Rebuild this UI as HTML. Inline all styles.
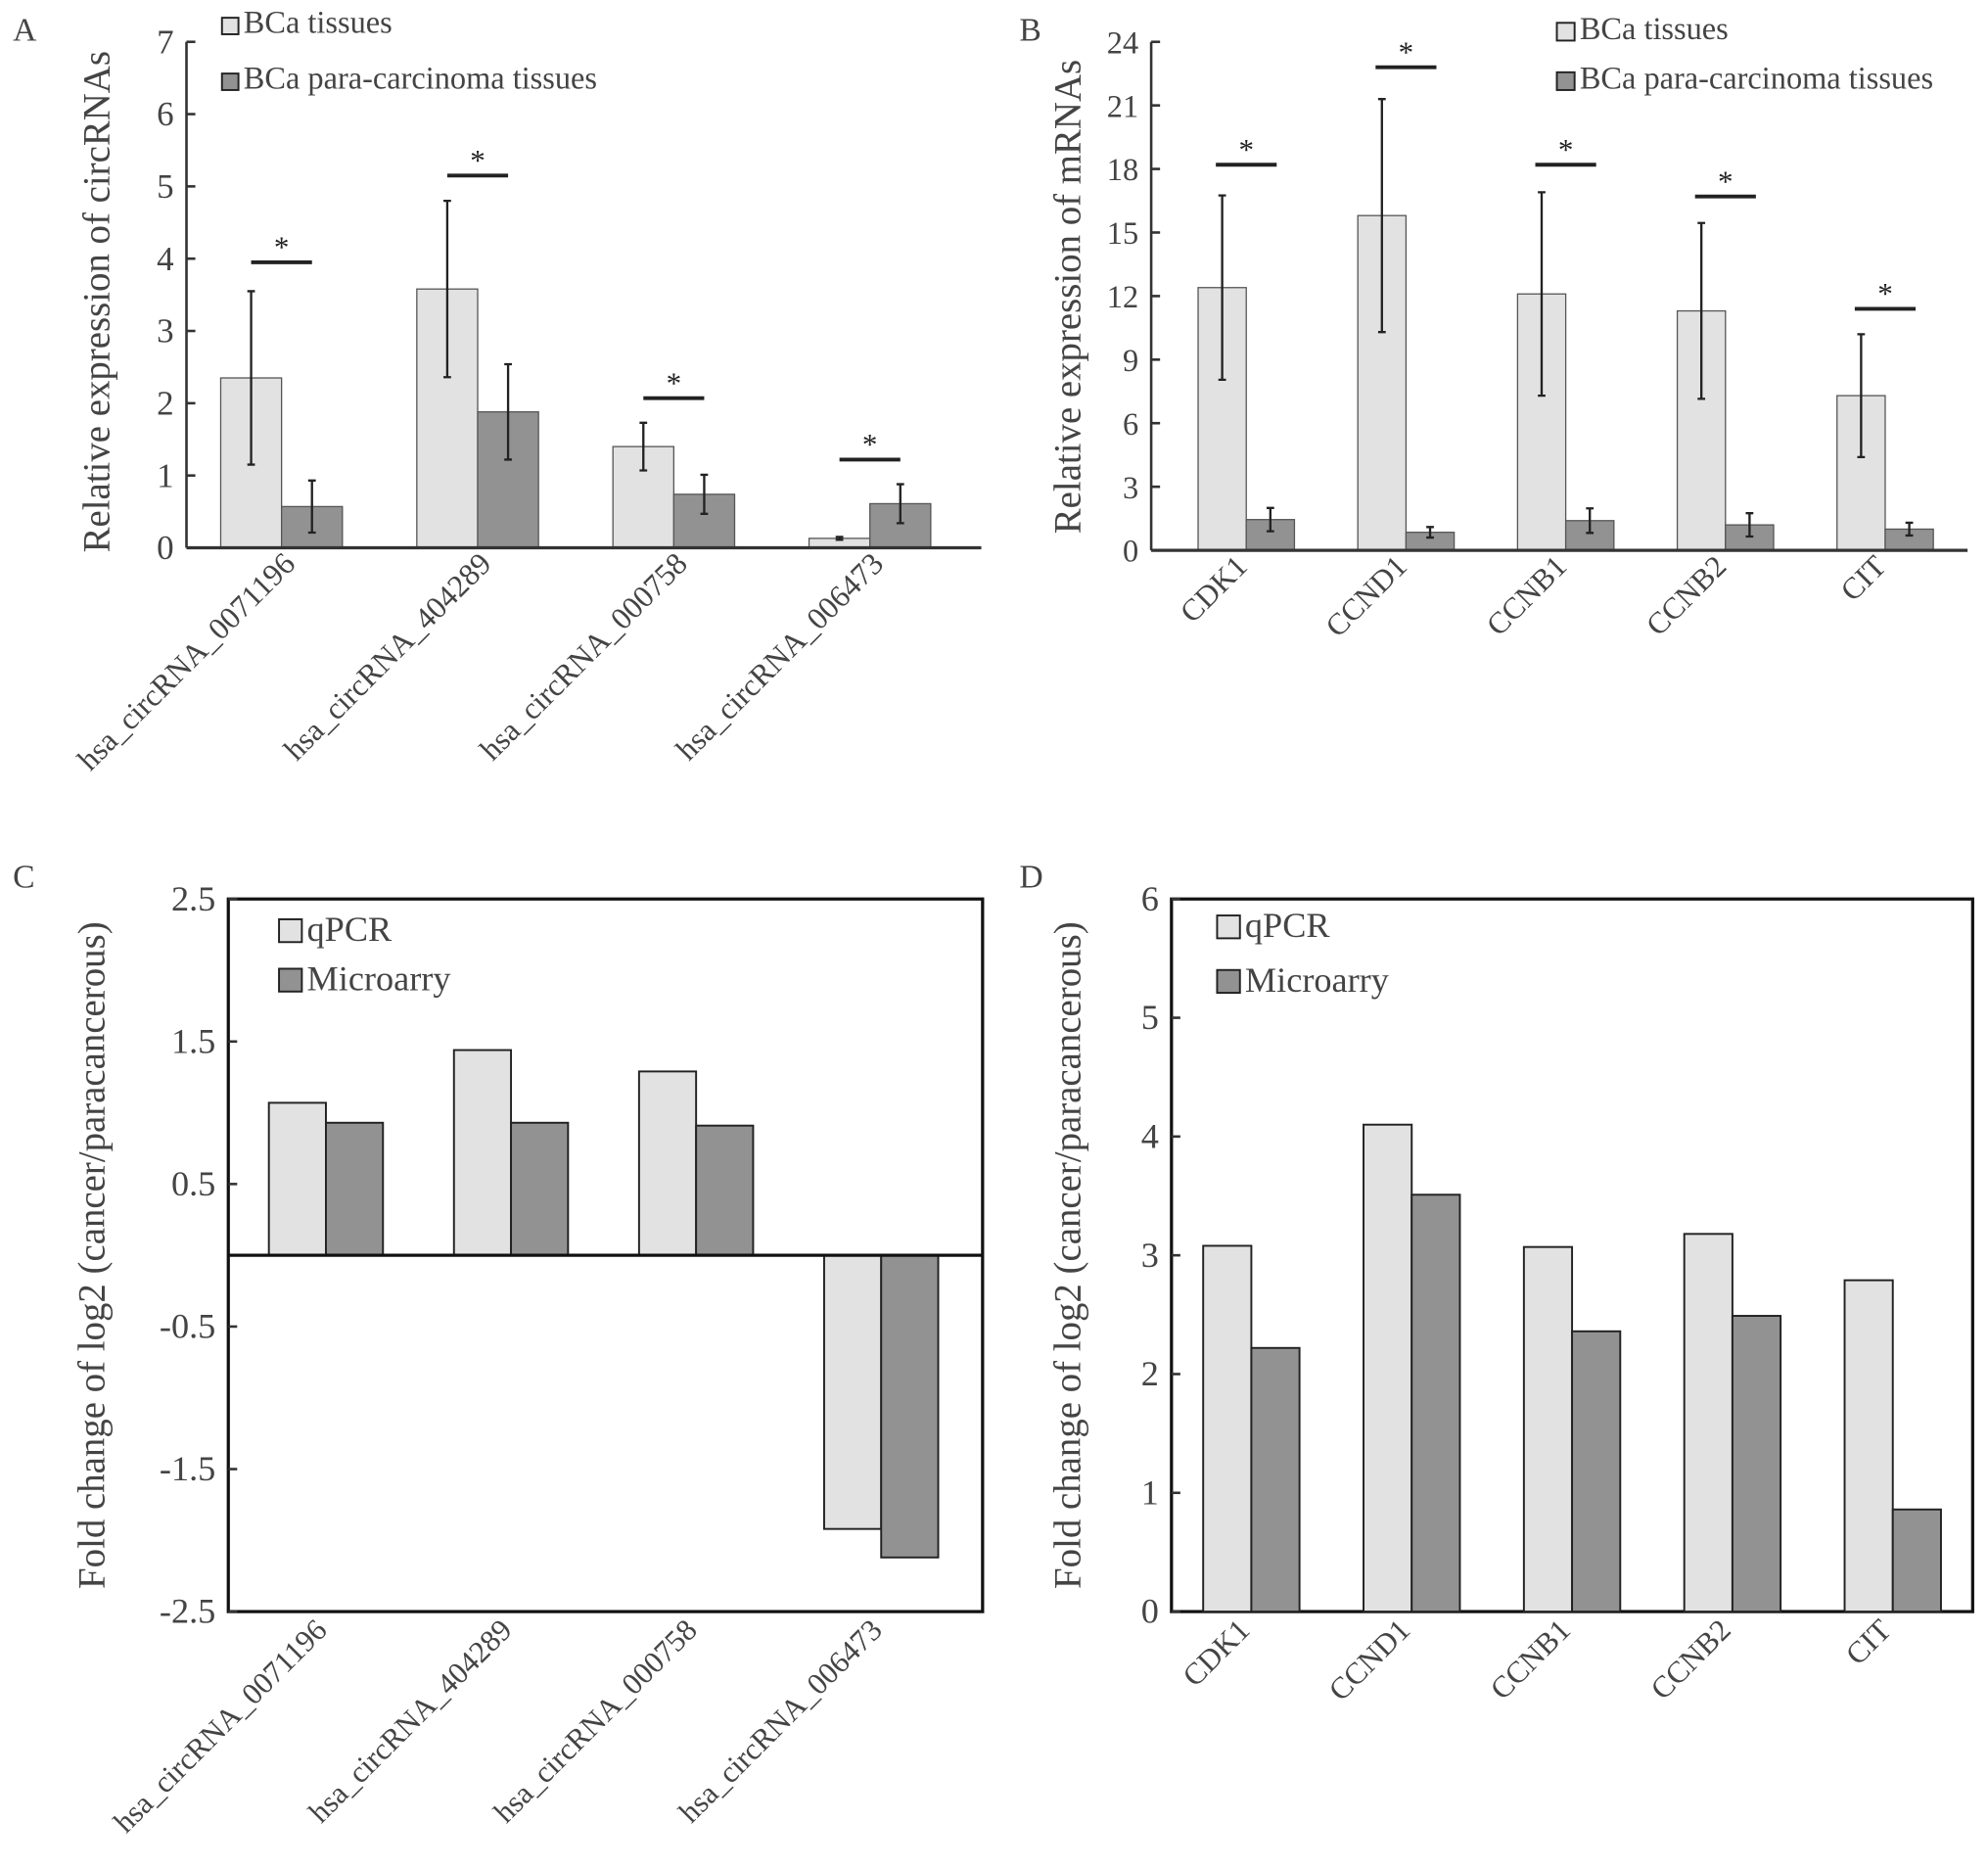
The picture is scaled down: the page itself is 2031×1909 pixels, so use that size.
<!DOCTYPE html>
<html><head><meta charset="utf-8"><style>
html,body{margin:0;padding:0;background:#fff;}
svg{display:block;font-family:"Liberation Serif",serif;}
svg text{font-family:"Liberation Serif",serif;}
</style></head><body>
<svg id="fig" width="2031" height="1909" viewBox="0 0 1568 1474" xmlns="http://www.w3.org/2000/svg">
<rect width="1568" height="1474" fill="#fff"/>
<g fill="#444" font-size="26">
<text x="10" y="32">A</text>
<text x="804" y="32">B</text>
<text x="10" y="700">C</text>
<text x="804" y="700">D</text>
</g>
</svg>
<script>
// Panel A data
const catsA = ["hsa_circRNA_0071196","hsa_circRNA_404289","hsa_circRNA_000758","hsa_circRNA_006473"];
const tissueA = [2.35, 3.58, 1.4, 0.13];
const tissueErrA = [1.2, 1.22, 0.33, 0.02];
const paraA = [0.57, 1.88, 0.74, 0.61];
const paraErrA = [0.36, 0.66, 0.27, 0.27];
const sigA = [3.95, 5.15, 2.07, 1.22];
const ticksA = [0,1,2,3,4,5,6,7];
// Panel B data
const catsB = ["CDK1","CCND1","CCNB1","CCNB2","CIT"];
const tissueB = [12.4, 15.8, 12.1, 11.3, 7.3];
const tissueErrB = [4.35, 5.5, 4.8, 4.15, 2.9];
const paraB = [1.45, 0.85, 1.4, 1.2, 1.0];
const paraErrB = [0.55, 0.25, 0.58, 0.55, 0.3];
const sigB = [18.2, 22.8, 18.2, 16.7, 11.4];
const ticksB = [0,3,6,9,12,15,18,21,24];
// Panel C data
const catsC = catsA;
const qpcrC = [1.07, 1.44, 1.29, -1.92];
const microC = [0.93, 0.93, 0.91, -2.12];
const ticksC = [2.5,1.5,0.5,-0.5,-1.5,-2.5];
// Panel D data
const catsD = catsB;
const qpcrD = [3.08, 4.1, 3.07, 3.18, 2.79];
const microD = [2.22, 3.51, 2.36, 2.49, 0.86];
const ticksD = [0,1,2,3,4,5,6];

const NS="http://www.w3.org/2000/svg";
const svg=document.getElementById('fig');
function mk(tag,attrs,parent){const e=document.createElementNS(NS,tag);for(const k in attrs)e.setAttribute(k,attrs[k]);(parent||svg).appendChild(e);return e;}
const LIGHT="#e2e2e2", DARK="#929292", TXT="#444";

function panel(o){
  const y=v=>o.y0-(v-o.vmin)/(o.vmax-o.vmin)*(o.y0-o.y1);
  const cx=i=>o.c0+o.step*i;
  const g=mk('g',{});
  
  
  if(o.box){
    const b=mk('rect',{x:o.xl,y:o.y1,width:o.xr-o.xl,height:o.y0-o.y1,fill:'none',stroke:'#111','stroke-width':2.5},g);
    
    
  } else {
    const ya=mk('line',{x1:o.xl,y1:o.y1,x2:o.xl,y2:o.y0,stroke:'#333','stroke-width':2},g);
    
    
  }
  const zy=y(o.base);
  o.ticks.forEach(t=>{
    const ty=y(t);
    const tl=mk('line',{x1:o.xl,y1:ty,x2:o.xl+7,y2:ty,stroke:'#333','stroke-width':2},g);
    
    
    const tx=mk('text',{x:o.xl-10,y:ty+9,'text-anchor':'end','font-size':o.tfs,fill:TXT},g);
    tx.textContent=String(t);
    
    
  });
  const yl=mk('text',{x:0,y:0,'text-anchor':'middle','font-size':o.lfs,fill:TXT,transform:`translate(${o.ylx},${o.yly}) rotate(-90)`},g);
  yl.textContent=o.ylabel;
  
  
  o.cats.forEach((c,i)=>{
    const x=cx(i);
    const v1=o.s1[i], v2=o.s2[i];
    const r1=mk('rect',{x:x-o.bw,y:Math.min(y(v1),zy),width:o.bw,height:Math.abs(y(v1)-zy),fill:LIGHT,stroke:o.bs,'stroke-width':o.bsw},g);
    
    
    const r2=mk('rect',{x:x,y:Math.min(y(v2),zy),width:o.bw,height:Math.abs(y(v2)-zy),fill:DARK,stroke:o.bs,'stroke-width':o.bsw},g);
    
    
    if(o.e1){
      [[x-o.bw/2,v1,o.e1[i]],[x+o.bw/2,v2,o.e2[i]]].forEach(([ex,v,e])=>{
        const el=mk('path',{d:`M${ex},${y(v+e)}V${y(v-e)}M${ex-3},${y(v+e)}H${ex+3}M${ex-3},${y(v-e)}H${ex+3}`,stroke:'#222','stroke-width':1.8,fill:'none'},g);
        
        
      });
      const sy=y(o.sig[i]);
      const sl=mk('line',{x1:x-24,y1:sy,x2:x+24,y2:sy,stroke:'#222','stroke-width':3},g);
      
      
      const st=mk('text',{x:x,y:sy-4,'text-anchor':'middle','font-size':24,fill:'#222'},g);
      st.textContent='*';
      
      
    }
    const lx=x+o.lxo, ly=o.y0+o.lyo;
    const xl=mk('text',{x:0,y:0,'text-anchor':'end','font-size':o.xfs,fill:TXT,transform:`translate(${lx},${ly}) rotate(-45)`},g);
    xl.textContent=c;
    
    
  });
  if(!o.box){
    const xa=mk('line',{x1:o.xl,y1:zy,x2:o.xr,y2:zy,stroke:'#333','stroke-width':2.5},g);
    
    
  } else if(o.base!==o.vmin){
    const xa=mk('line',{x1:o.xl,y1:zy,x2:o.xr,y2:zy,stroke:'#111','stroke-width':2.5},g);
    
    
  }
  o.leg.forEach((L,k)=>{
    const sq=mk('rect',{x:L.x,y:L.y,width:L.s,height:L.s,fill:k?DARK:LIGHT,stroke:'#222','stroke-width':1.5},g);
    
    
    const lt=mk('text',{x:L.x+L.s+4,y:L.y+L.s-1,'font-size':L.fs,fill:TXT},g);
    lt.textContent=L.t;
    
    
  });
}

panel({name:'panel-a',cats:catsA,s1:tissueA,s2:paraA,e1:tissueErrA,e2:paraErrA,sig:sigA,ticks:ticksA,
  xl:147,xr:774,y0:432,y1:33,vmin:0,vmax:7,base:0,c0:222,step:154.7,bw:48,bs:'#555',bsw:1,
  tfs:27,lfs:30,ylx:86,yly:238,ylabel:'Relative expression of circRNAs',xfs:24.5,lxo:12,lyo:14,
  leg:[{x:175,y:14,s:13,fs:25,t:'BCa tissues'},{x:175,y:58,s:13,fs:25,t:'BCa para-carcinoma tissues'}]});
panel({name:'panel-b',cats:catsB,s1:tissueB,s2:paraB,e1:tissueErrB,e2:paraErrB,sig:sigB,ticks:ticksB,
  xl:908,xr:1552,y0:434,y1:33,vmin:0,vmax:24,base:0,c0:983,step:126,bw:38,bs:'#555',bsw:1,
  tfs:25,lfs:30,ylx:852,yly:234,ylabel:'Relative expression of mRNAs',xfs:24,lxo:2,lyo:14,
  leg:[{x:1228,y:18,s:14,fs:25,t:'BCa tissues'},{x:1228,y:57,s:14,fs:25,t:'BCa para-carcinoma tissues'}]});
panel({name:'panel-c',cats:catsC,s1:qpcrC,s2:microC,ticks:ticksC,box:true,
  xl:180,xr:775,y0:1271,y1:709,vmin:-2.5,vmax:2.5,base:0,c0:257,step:146,bw:45,bs:'#222',bsw:1.5,
  tfs:28,lfs:30,ylx:82,yly:990,ylabel:'Fold change of log2 (cancer/paracancerous)',xfs:24,lxo:2,lyo:16,
  leg:[{x:220,y:725,s:18,fs:28,t:'qPCR'},{x:220,y:764,s:18,fs:28,t:'Microarry'}]});
panel({name:'panel-d',cats:catsD,s1:qpcrD,s2:microD,ticks:ticksD,box:true,
  xl:924,xr:1556,y0:1271,y1:709,vmin:0,vmax:6,base:0,c0:987,step:126.5,bw:38,bs:'#222',bsw:1.5,
  tfs:28,lfs:30,ylx:852,yly:990,ylabel:'Fold change of log2 (cancer/paracancerous)',xfs:24,lxo:0,lyo:16,
  leg:[{x:960,y:722,s:18,fs:28,t:'qPCR'},{x:960,y:765,s:18,fs:28,t:'Microarry'}]});
</script>
</body></html>
